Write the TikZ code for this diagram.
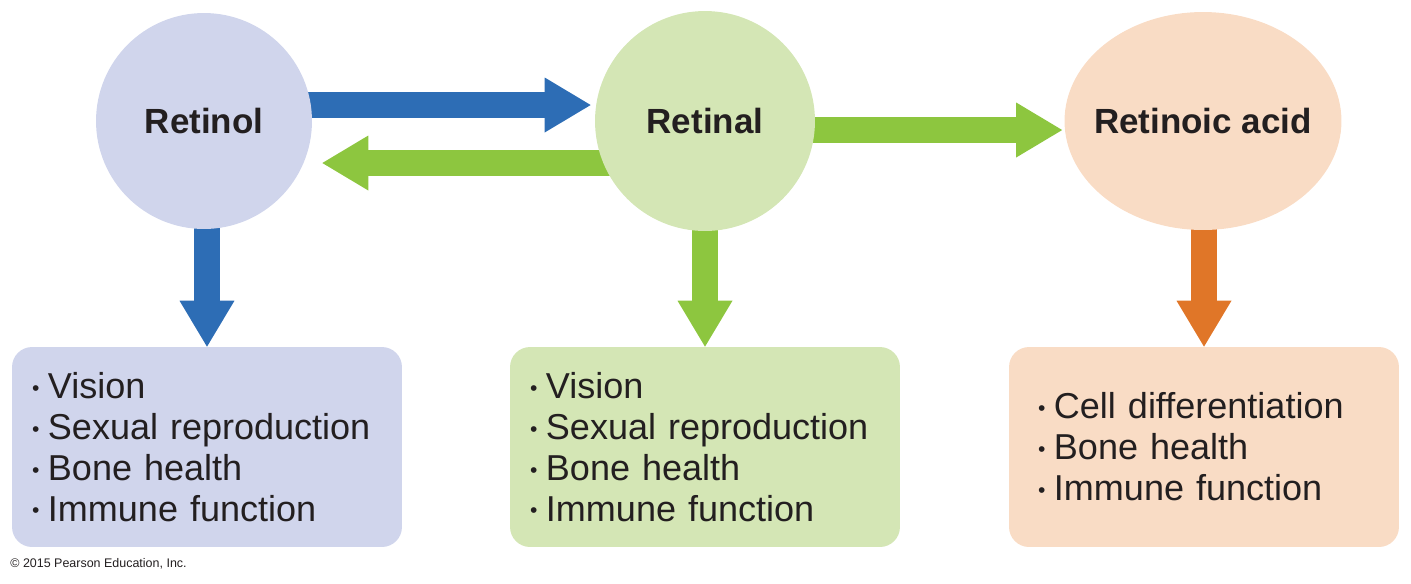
\documentclass[tikz,border=0pt]{standalone}
\usepackage{fontspec}
\setmainfont{Liberation Sans}
\usetikzlibrary{positioning,arrows.meta,shapes.geometric,calc,backgrounds}

\definecolor{lavender}{HTML}{D0D5EC}
\definecolor{paleleaf}{HTML}{D4E6B5}
\definecolor{peach}{HTML}{F9DCC5}
\definecolor{flowblue}{HTML}{2D6DB5}
\definecolor{flowgreen}{HTML}{8DC63F}
\definecolor{floworange}{HTML}{E07628}
\definecolor{inkdark}{HTML}{231F20}

% small bullet in front of each line
\newcommand{\itm}{\makebox[10.2pt][l]{\hspace{1.2pt}\raisebox{1.9pt}{\fontsize{12pt}{12pt}\selectfont\textbullet}}}

\begin{document}
\begin{tikzpicture}[x=0.02cm, y=-0.02cm,
    title/.style={font=\fontsize{19.9pt}{22pt}\selectfont\bfseries, text=inkdark},
    fnbox/.style={rounded corners=0.4cm, minimum width=7.8cm, minimum height=4cm,
        align=left, text=inkdark, font=\fontsize{20.5pt}{23.3pt}\selectfont},
    flow/.style={line width=0.52cm, -{Triangle[length=0.92cm, width=1.1cm, line width=0pt]}}]
    \useasboundingbox (0,0) rectangle (1411,583);

    % --- The three forms ---
    \node[title, circle, minimum size=4.32cm, inner sep=0pt, fill=lavender] (retinol) at (204,121) {Retinol};
    \node[title, circle, minimum size=4.4cm, inner sep=0pt, fill=paleleaf] (retinal) at (705,121) {Retinal};
    \node[ellipse, minimum width=5.54cm, minimum height=4.36cm, inner sep=0pt, fill=peach,
        label={[title]center:Retinoic acid}] (retinoic) at (1203,121) {};

    % --- Functions of each form ---
    \node[fnbox, fill=lavender, text width=7.08cm, inner xsep=0.36cm] (fun1) at (207,447) {%
        \itm Vision\\
        \itm Sexual reproduction\\
        \itm Bone health\\
        \itm Immune function};
    \node[fnbox, fill=paleleaf, text width=7.08cm, inner xsep=0.36cm] (fun2) at (705,447) {%
        \itm Vision\\
        \itm Sexual reproduction\\
        \itm Bone health\\
        \itm Immune function};
    \node[fnbox, fill=peach, text width=6.72cm, inner xsep=0.54cm] (fun3) at (1204,447) {%
        \itm Cell differentiation\\
        \itm Bone health\\
        \itm Immune function};

    % Credit line
    \node[anchor=base west, inner sep=0pt, text=inkdark, font=\fontsize{7.1pt}{8pt}\selectfont] (credit) at (10,567) {\textcopyright{} 2015 Pearson Education, Inc.};

    % --- Conversions and effects (behind the shapes) ---
    \begin{scope}[on background layer]
        \draw[flow, flowblue] ($(retinol.center)+(0,-16)$) -- ($(retinal.west)+(-4,-16)$);
        \draw[flow, flowgreen] ($(retinal.center)+(0,42)$) -- ($(retinol.east)+(10,42)$);
        \draw[flow, flowgreen] ($(retinal.center)+(0,9)$) -- ($(retinoic.west)+(-2,9)$);
        \draw[flow, flowblue] (fun1.north |- retinol.center) -- (fun1.north);
        \draw[flow, flowgreen] (fun2.north |- retinal.center) -- (fun2.north);
        \draw[flow, floworange] (fun3.north |- retinoic.center) -- (fun3.north);
    \end{scope}
\end{tikzpicture}
\end{document}
